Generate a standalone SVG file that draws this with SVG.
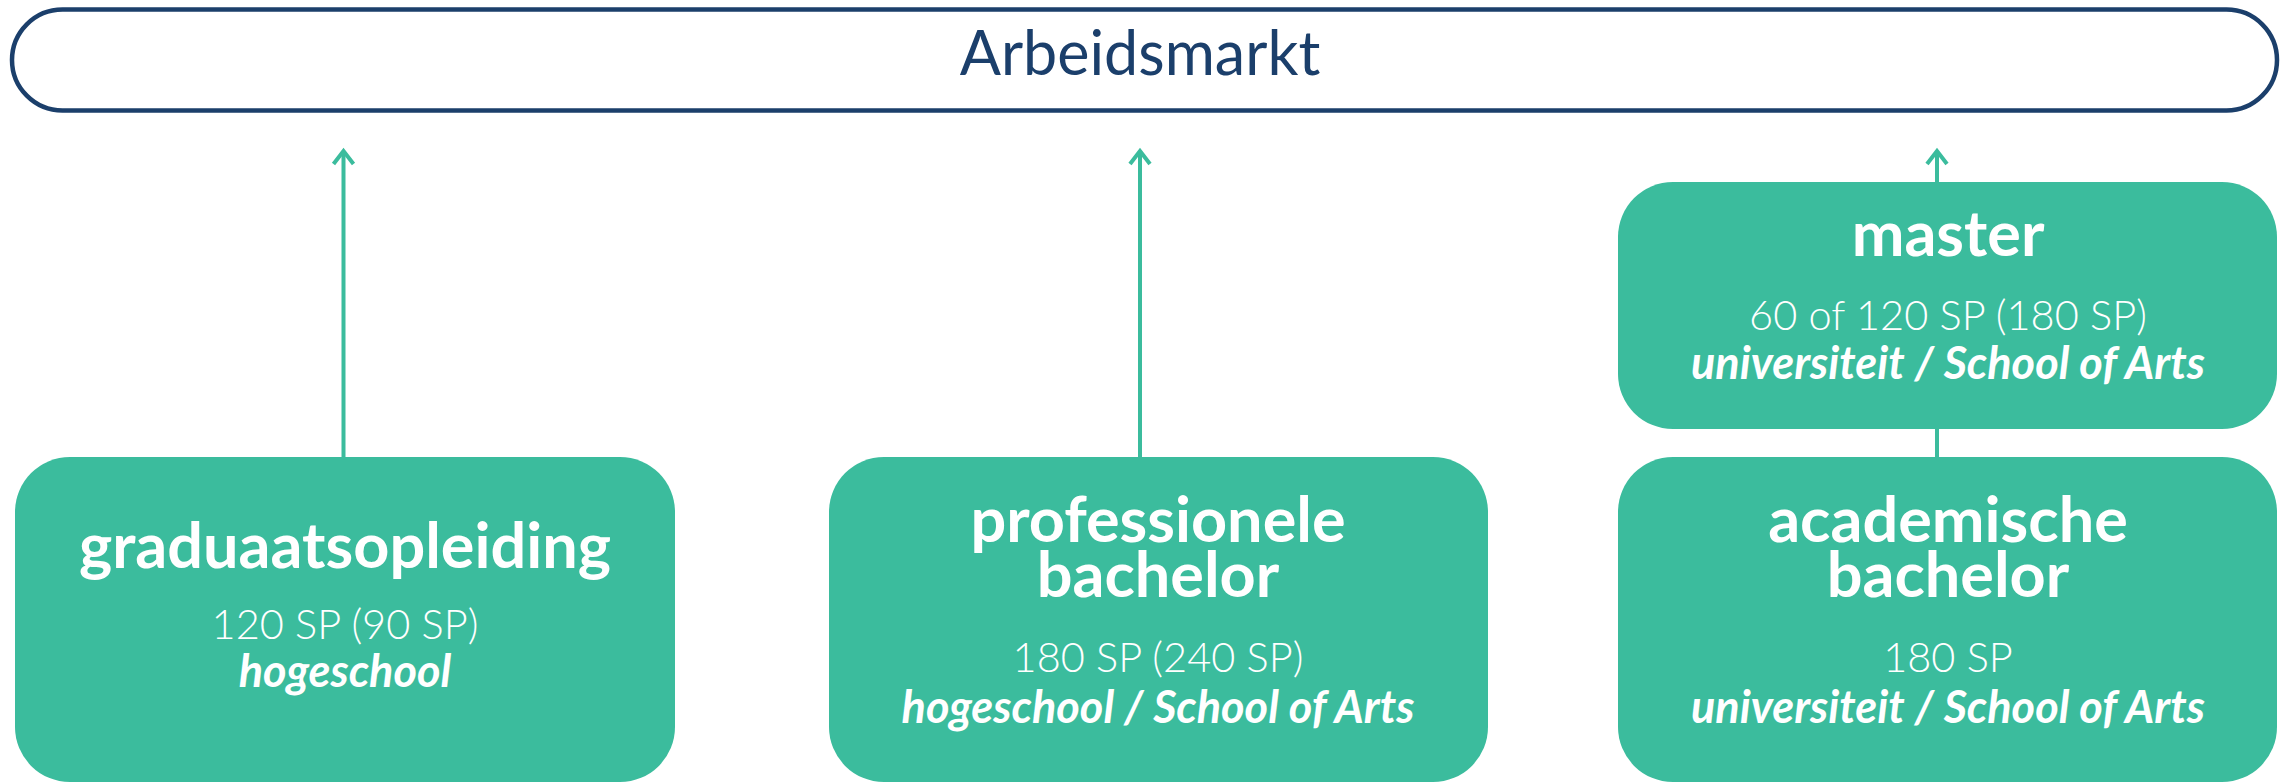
<svg xmlns="http://www.w3.org/2000/svg" width="2292" height="782" viewBox="0 0 2292 782">
<defs>
<style>
.title{font-family:Lato,"Liberation Sans",sans-serif;font-size:61px;fill:#1b3f6b;text-anchor:middle}
.node{fill:#3bbc9d}
.h{font-family:Lato,"Liberation Sans",sans-serif;font-weight:700;font-size:63px;fill:#fff;text-anchor:middle}
.sp{font-family:Lato,"Liberation Sans",sans-serif;font-weight:300;font-size:41.5px;fill:#fff;text-anchor:middle}
.inst{font-family:Lato,"Liberation Sans",sans-serif;font-weight:700;font-style:italic;font-size:45px;fill:#fff;text-anchor:middle}
.conn{stroke:#3bbc9d;stroke-width:4;fill:none}
</style>
<marker id="arr" markerUnits="userSpaceOnUse" viewBox="-18 -14 22 28" markerWidth="22" markerHeight="28" refX="0" refY="0" orient="auto">
<path d="M-13,-10 L0,0 L-13,10" fill="none" stroke="#3bbc9d" stroke-width="4"/>
</marker>
</defs>
<g id="arbeidsmarkt">
<rect x="12" y="9.5" width="2265" height="101" rx="50.5" fill="#fff" stroke="#1b3f6b" stroke-width="4.5"/>
<text class="title" x="1140" y="75">Arbeidsmarkt</text>
</g>
<g id="connectors">
<line class="conn" x1="343.5" y1="458" x2="343.5" y2="151" marker-end="url(#arr)"/>
<line class="conn" x1="1140" y1="458" x2="1140" y2="151" marker-end="url(#arr)"/>
<line class="conn" x1="1937" y1="182" x2="1937" y2="151" marker-end="url(#arr)"/>
<line class="conn" x1="1937" y1="458" x2="1937" y2="428"/>
</g>
<g id="graduaatsopleiding">
<rect class="node" x="15" y="457" width="660" height="325" rx="55"/>
<text class="h" x="345" y="568">graduaatsopleiding</text>
<text class="sp" x="345" y="639">120 SP (90 SP)</text>
<text class="inst" x="345" y="687">hogeschool</text>
</g>
<g id="professionele-bachelor">
<rect class="node" x="829" y="457" width="659" height="325" rx="55"/>
<text class="h" x="1158" y="542">professionele<tspan x="1158" y="597">bachelor</tspan></text>
<text class="sp" x="1158" y="672">180 SP (240 SP)</text>
<text class="inst" x="1158" y="723">hogeschool / School of Arts</text>
</g>
<g id="master">
<rect class="node" x="1618" y="182" width="659" height="247" rx="55"/>
<text class="h" x="1948" y="256">master</text>
<text class="sp" x="1948" y="330">60 of 120 SP (180 SP)</text>
<text class="inst" x="1948" y="379">universiteit / School of Arts</text>
</g>
<g id="academische-bachelor">
<rect class="node" x="1618" y="457" width="659" height="325" rx="55"/>
<text class="h" x="1948" y="542">academische<tspan x="1948" y="597">bachelor</tspan></text>
<text class="sp" x="1948" y="672">180 SP</text>
<text class="inst" x="1948" y="723">universiteit / School of Arts</text>
</g>
</svg>
